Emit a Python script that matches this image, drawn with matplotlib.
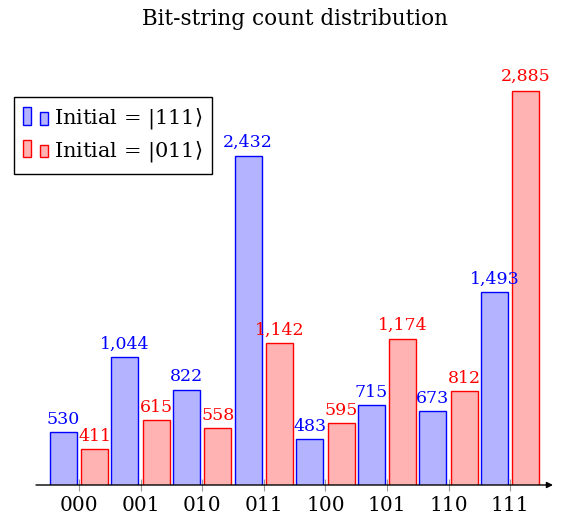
import matplotlib
matplotlib.use("Agg")
import matplotlib.pyplot as plt
from matplotlib.patches import Rectangle
from matplotlib.legend_handler import HandlerBase
import numpy as np

categories = ["000", "001", "010", "011", "100", "101", "110", "111"]
counts_111 = [530, 1044, 822, 2432, 483, 715, 673, 1493]
counts_011 = [411, 615, 558, 1142, 595, 1174, 812, 2885]
series_labels = [r"Initial = $|111\rangle$", r"Initial = $|011\rangle$"]
title = "Bit-string count distribution"

plt.rcParams["font.family"] = ["DejaVu Serif", "DejaVu Sans"]
plt.rcParams["mathtext.fontset"] = "dejavuserif"

W, H = 561, 518
fig = plt.figure(figsize=(W / 100, H / 100), dpi=100)
ax = fig.add_axes([36 / W, (H - 485) / H, (553 - 36) / W, (485 - 55) / H])

x = np.arange(len(categories))
off = 0.256
bw = 0.438
blue_face, blue_edge = "#b3b3ff", "#0000ff"
red_face, red_edge = "#ffb3b3", "#ff0000"

ax.bar(x - off, counts_111, bw, color=blue_face, edgecolor=blue_edge, linewidth=1.0, zorder=2)
ax.bar(x + off, counts_011, bw, color=red_face, edgecolor=red_edge, linewidth=1.0, zorder=2)

# data range with 10% enlargement (pgfplots style)
vmin = min(counts_111 + counts_011)
vmax = max(counts_111 + counts_011)
pad = 0.1 * (vmax - vmin)
ax.set_xlim(-0.698, 7.695)
ax.set_ylim(vmin - pad, vmax + pad)

for xs, vals, col in ((x - off, counts_111, blue_edge), (x + off, counts_011, red_edge)):
    for xi, v in zip(xs, vals):
        px = 7.5 + 0.0008 * v
        ax.annotate(f"{v:,}", (xi, v), xytext=(0, px * 0.72), textcoords="offset points",
                    ha="center", va="baseline", color=col, fontsize=12.5, zorder=3)

ax.set_xticks(x)
ax.set_xticklabels(categories, fontsize=14.5)
ax.tick_params(axis="x", direction="inout", length=8, width=0.8, color="#999999", pad=4)
ax.set_yticks([])
for s in ax.spines.values():
    s.set_visible(False)
ax.annotate("", xy=(1, 0), xytext=(0, 0), xycoords="axes fraction",
            arrowprops=dict(arrowstyle="-|>", color="black", lw=1.0, mutation_scale=9,
                            shrinkA=0, shrinkB=0), zorder=4)

fig.text(295 / W, 1 - 19 / H, title, ha="center", va="center", fontsize=15.5)


class TwoBarHandler(HandlerBase):
    def create_artists(self, legend, orig_handle, xdescent, ydescent, width, height, fontsize, trans):
        fc = orig_handle.get_facecolor()
        ec = orig_handle.get_edgecolor()
        bwid = width * 0.33
        y0 = -ydescent - 0.5
        r1 = Rectangle((-xdescent, y0), bwid, height * 1.2, facecolor=fc, edgecolor=ec, lw=1.0, transform=trans)
        r2 = Rectangle((-xdescent + width * 0.67, y0), bwid, height * 0.83, facecolor=fc, edgecolor=ec, lw=1.0, transform=trans)
        return [r1, r2]


h1 = Rectangle((0, 0), 1, 1, facecolor=blue_face, edgecolor=blue_edge)
h2 = Rectangle((0, 0), 1, 1, facecolor=red_face, edgecolor=red_edge)
leg = ax.legend([h1, h2], series_labels, handler_map={Rectangle: TwoBarHandler()},
                loc="upper left", bbox_to_anchor=(14 / W, 1 - 97 / H), bbox_transform=fig.transFigure,
                borderaxespad=0, fancybox=False, edgecolor="black", framealpha=1,
                fontsize=15, handlelength=1.17, handletextpad=0.3, borderpad=0.45,
                labelspacing=0.38)
leg.get_frame().set_linewidth(1.0)

fig.savefig("out.png", dpi=100)
